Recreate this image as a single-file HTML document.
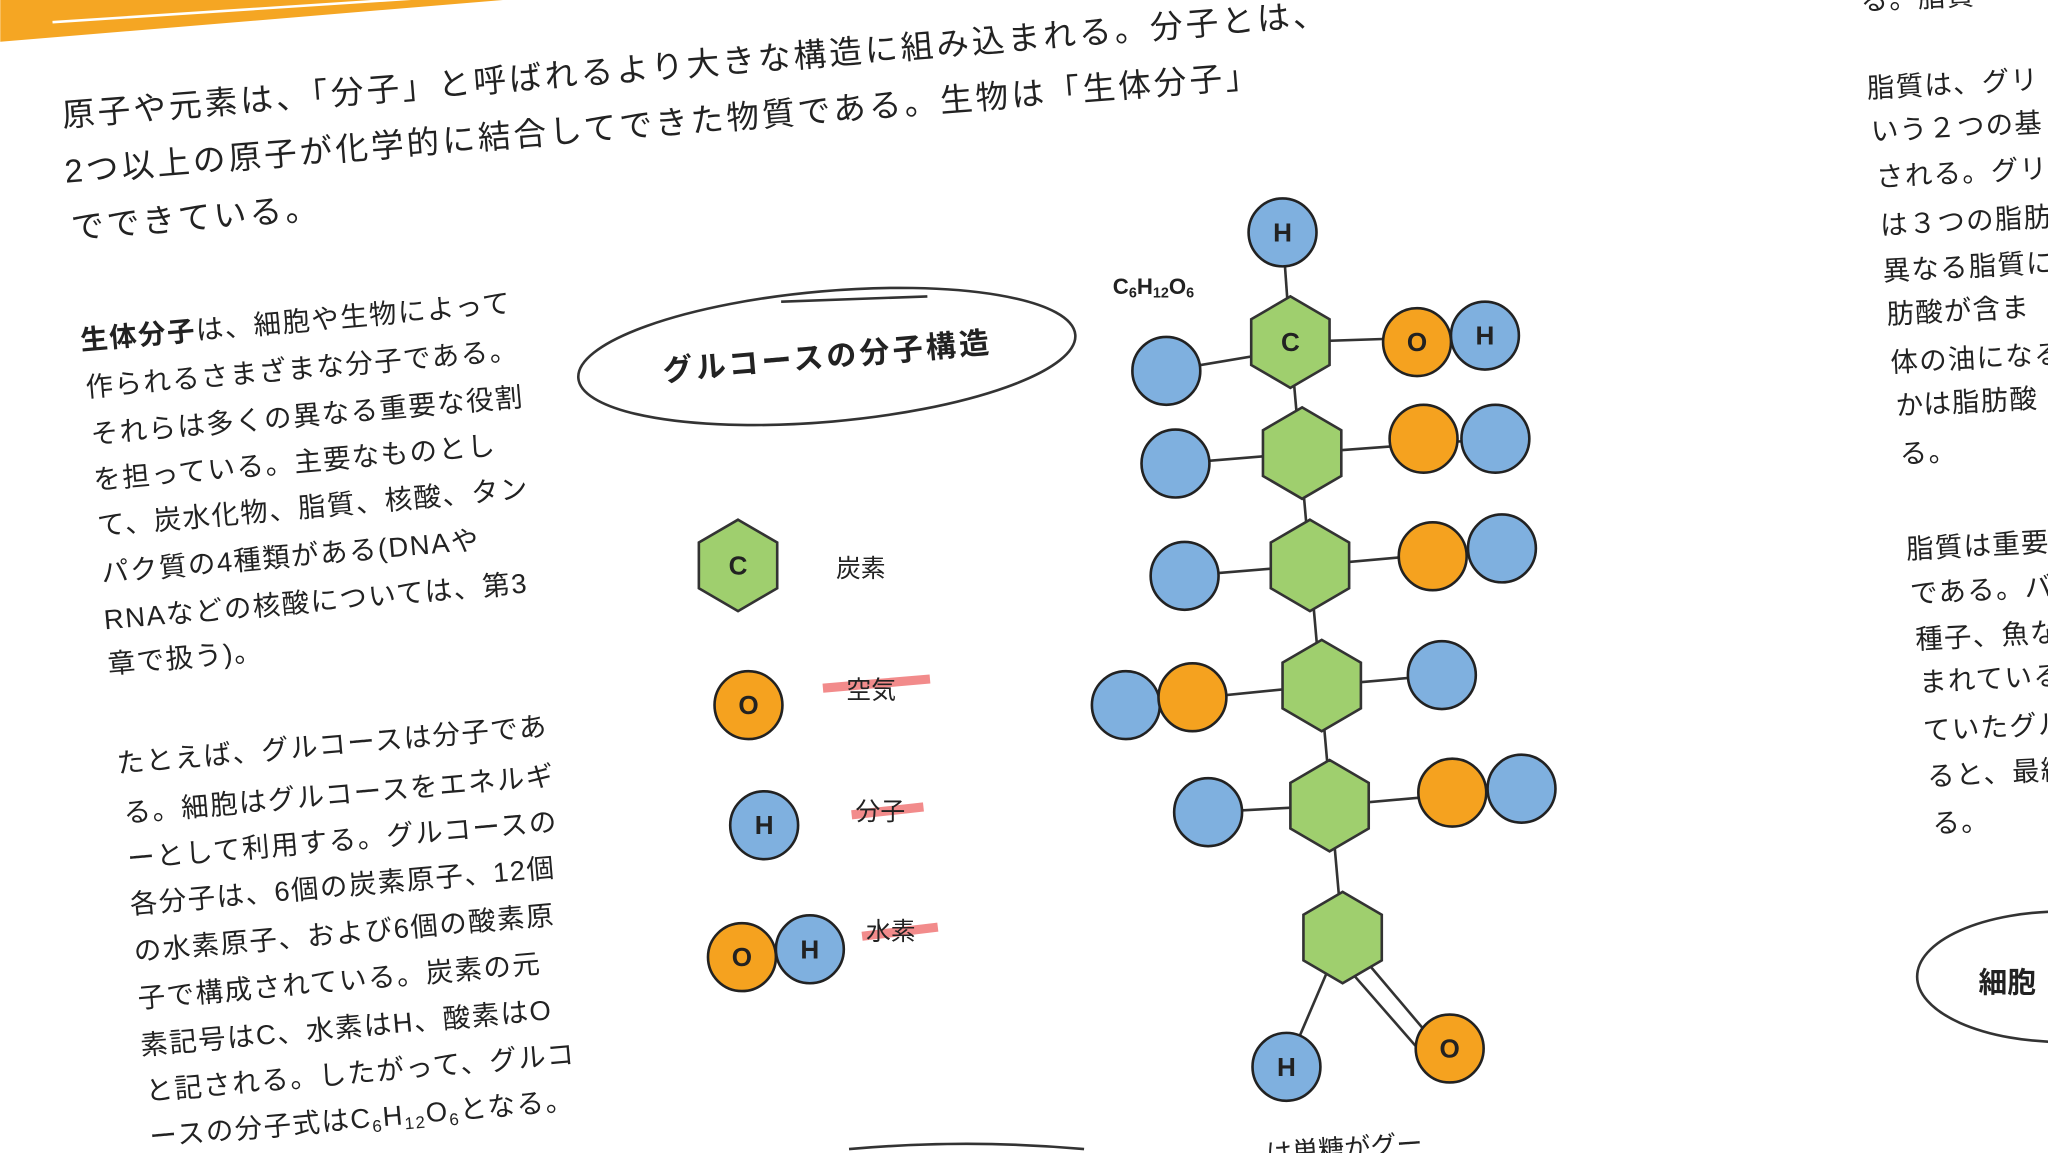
<!DOCTYPE html>
<html><head><meta charset="utf-8"><style>
html,body{margin:0;padding:0;background:#fff;overflow:hidden}
svg{display:block}
text{font-family:"Liberation Sans","Noto Sans CJK JP",sans-serif;fill:#222}
.t{font-size:25px;letter-spacing:2.4px}
.l{font-size:21px;letter-spacing:1.2px}
.r{font-size:21px;letter-spacing:1px}
.a{font-weight:bold;font-size:20px;text-anchor:middle;dominant-baseline:central}
</style></head><body>
<svg width="2048" height="1153" viewBox="0 0 1568 883" xmlns="http://www.w3.org/2000/svg">
<rect width="1568" height="883" fill="#fff"/>
<polygon points="0,0 385,0 0,32" fill="#f5a623"/>
<line x1="40" y1="17" x2="330" y2="-2" stroke="#fff" stroke-width="2"/>

<g class="t">
<text x="48" y="97" transform="rotate(-4.6 48 97)">原子や元素は、「分子」と呼ばれるより大きな構造に組み込まれる。分子とは、</text>
<text x="50" y="140" transform="rotate(-4.6 50 140)">2つ以上の原子が化学的に結合してできた物質である。生物は「生体分子」</text>
<text x="55" y="183" transform="rotate(-4.6 55 183)">でできている。</text>
</g>

<g class="l">
<text x="62" y="268" transform="rotate(-5 62 268)"><tspan font-weight="bold">生体分子</tspan>は、細胞や生物によって</text>
<text x="66" y="304" transform="rotate(-5 66 304)">作られるさまざまな分子である。</text>
<text x="70" y="340" transform="rotate(-5 70 340)">それらは多くの異なる重要な役割</text>
<text x="72" y="375" transform="rotate(-5 72 375)">を担っている。主要なものとし</text>
<text x="75" y="410" transform="rotate(-5 75 410)">て、炭水化物、脂質、核酸、タン</text>
<text x="78" y="446" transform="rotate(-5 78 446)">パク質の4種類がある(DNAや</text>
<text x="80" y="482" transform="rotate(-5 80 482)">RNAなどの核酸については、第3</text>
<text x="83" y="516" transform="rotate(-5 83 516)">章で扱う)。</text>
<text x="90" y="592" transform="rotate(-5 90 592)">たとえば、グルコースは分子であ</text>
<text x="95" y="630" transform="rotate(-5 95 630)">る。細胞はグルコースをエネルギ</text>
<text x="98" y="665" transform="rotate(-5 98 665)">ーとして利用する。グルコースの</text>
<text x="100" y="700" transform="rotate(-5 100 700)">各分子は、6個の炭素原子、12個</text>
<text x="103" y="736" transform="rotate(-5 103 736)">の水素原子、および6個の酸素原</text>
<text x="106" y="772" transform="rotate(-5 106 772)">子で構成されている。炭素の元</text>
<text x="108" y="808" transform="rotate(-5 108 808)">素記号はC、水素はH、酸素はO</text>
<text x="112" y="843" transform="rotate(-5 112 843)">と記される。したがって、グルコ</text>
<text x="115" y="878" transform="rotate(-5 115 878)">ースの分子式はC<tspan font-size="13" dy="4">6</tspan><tspan dy="-4">H</tspan><tspan font-size="13" dy="4">12</tspan><tspan dy="-4">O</tspan><tspan font-size="13" dy="4">6</tspan><tspan dy="-4">となる。</tspan></text>
</g>

<g class="r">
<text x="1425" y="8" transform="rotate(-3 1425 8)">る。脂質ー</text>
<text x="1430" y="75" transform="rotate(-3 1430 75)">脂質は、グリ</text>
<text x="1433" y="108" transform="rotate(-3 1433 108)">いう２つの基</text>
<text x="1437" y="143" transform="rotate(-3 1437 143)">される。グリ</text>
<text x="1440" y="180" transform="rotate(-3 1440 180)">は３つの脂肪</text>
<text x="1442" y="215" transform="rotate(-3 1442 215)">異なる脂質に</text>
<text x="1445" y="248" transform="rotate(-3 1445 248)">肪酸が含ま</text>
<text x="1448" y="285" transform="rotate(-3 1448 285)">体の油になる</text>
<text x="1452" y="318" transform="rotate(-3 1452 318)">かは脂肪酸</text>
<text x="1455" y="355" transform="rotate(-3 1455 355)">る。</text>
<text x="1460" y="428" transform="rotate(-3 1460 428)">脂質は重要</text>
<text x="1463" y="462" transform="rotate(-3 1463 462)">である。バ</text>
<text x="1467" y="497" transform="rotate(-3 1467 497)">種子、魚な</text>
<text x="1470" y="530" transform="rotate(-3 1470 530)">まれている</text>
<text x="1473" y="567" transform="rotate(-3 1473 567)">ていたグル</text>
<text x="1476" y="602" transform="rotate(-3 1476 602)">ると、最終</text>
<text x="1480" y="638" transform="rotate(-3 1480 638)">る。</text>
</g>
<ellipse cx="1580" cy="748" rx="112" ry="50" fill="none" stroke="#333" stroke-width="2"/>
<text x="1515" y="760" font-size="22" font-weight="bold">細胞</text>

<!-- title ellipse -->
<ellipse cx="633" cy="273" rx="191" ry="50" transform="rotate(-5 633 273)" fill="none" stroke="#333" stroke-width="2"/>
<line x1="598" y1="231" x2="710" y2="227" stroke="#333" stroke-width="2"/>
<text x="508" y="292" font-size="23" font-weight="bold" letter-spacing="2.5" transform="rotate(-5 508 292)">グルコースの分子構造</text>

<!-- bottom partial -->
<path d="M650 880 Q740 872 830 880" fill="none" stroke="#333" stroke-width="2"/>
<text x="950" y="892" font-size="20" transform="rotate(-4 950 892)">…は単糖がグー</text>

<defs>
<polygon id="hx" points="0,-35 30,-17.5 30,17.5 0,35 -30,17.5 -30,-17.5" fill="#9fcf6e" stroke="#333" stroke-width="2"/>
<circle id="bl" r="26" fill="#7fb0df" stroke="#222" stroke-width="2"/>
<circle id="or" r="26" fill="#f5a21f" stroke="#222" stroke-width="2"/>
</defs>

<!-- legend -->
<use href="#hx" x="565" y="433"/>
<text class="a" x="565" y="433">C</text>
<text x="640" y="442" font-size="19">炭素</text>
<use href="#or" x="573" y="540"/>
<text class="a" x="573" y="540">O</text>
<line x1="630" y1="527" x2="712" y2="520" stroke="#ef6f6f" stroke-width="7" opacity=".8"/>
<text x="648" y="535" font-size="19">空気</text>
<use href="#bl" x="585" y="632"/>
<text class="a" x="585" y="632">H</text>
<line x1="652" y1="624" x2="707" y2="618" stroke="#ef6f6f" stroke-width="7" opacity=".8"/>
<text x="655" y="628" font-size="19">分子</text>
<use href="#or" x="568" y="733"/>
<text class="a" x="568" y="733">O</text>
<use href="#bl" x="620" y="727"/>
<text class="a" x="620" y="727">H</text>
<line x1="660" y1="717" x2="718" y2="710" stroke="#ef6f6f" stroke-width="7" opacity=".8"/>
<text x="663" y="720" font-size="19">水素</text>

<!-- molecule bonds -->
<g stroke="#333" stroke-width="2">
<line x1="982" y1="178" x2="988" y2="262"/>
<line x1="988" y1="262" x2="1028" y2="718"/>
<line x1="893" y1="284" x2="988" y2="268"/><line x1="988" y1="262" x2="1137" y2="257"/>
<line x1="900" y1="355" x2="997" y2="347"/><line x1="997" y1="347" x2="1145" y2="336"/>
<line x1="907" y1="441" x2="1003" y2="433"/><line x1="1003" y1="433" x2="1150" y2="420"/>
<line x1="862" y1="540" x2="1012" y2="525"/><line x1="1012" y1="525" x2="1104" y2="517"/>
<line x1="925" y1="622" x2="1018" y2="617"/><line x1="1018" y1="617" x2="1165" y2="604"/>
<line x1="1018" y1="740" x2="985" y2="817"/>
<line x1="1045" y1="735" x2="1100" y2="800"/><line x1="1035" y1="745" x2="1090" y2="808"/>
</g>
<g>
<use href="#hx" x="988" y="262"/><use href="#hx" x="997" y="347"/><use href="#hx" x="1003" y="433"/>
<use href="#hx" x="1012" y="525"/><use href="#hx" x="1018" y="617"/><use href="#hx" x="1028" y="718"/>
<use href="#bl" x="982" y="178"/>
<use href="#bl" x="893" y="284"/><use href="#bl" x="900" y="355"/><use href="#bl" x="907" y="441"/>
<use href="#bl" x="862" y="540"/><use href="#or" x="913" y="534"/><use href="#bl" x="925" y="622"/>
<use href="#or" x="1085" y="262"/><use href="#bl" x="1137" y="257"/>
<use href="#or" x="1090" y="336"/><use href="#bl" x="1145" y="336"/>
<use href="#or" x="1097" y="426"/><use href="#bl" x="1150" y="420"/>
<use href="#bl" x="1104" y="517"/>
<use href="#or" x="1112" y="607"/><use href="#bl" x="1165" y="604"/>
<use href="#bl" x="985" y="817"/><use href="#or" x="1110" y="803"/>
</g>
<text class="a" x="982" y="178">H</text>
<text class="a" x="988" y="262">C</text>
<text class="a" x="1085" y="262">O</text>
<text class="a" x="1137" y="257">H</text>
<text class="a" x="985" y="817">H</text>
<text class="a" x="1110" y="803">O</text>
<text x="852" y="225" font-size="17" font-weight="bold">C<tspan font-size="11" dy="3">6</tspan><tspan dy="-3">H</tspan><tspan font-size="11" dy="3">12</tspan><tspan dy="-3">O</tspan><tspan font-size="11" dy="3">6</tspan></text>
</svg>
</body></html>
